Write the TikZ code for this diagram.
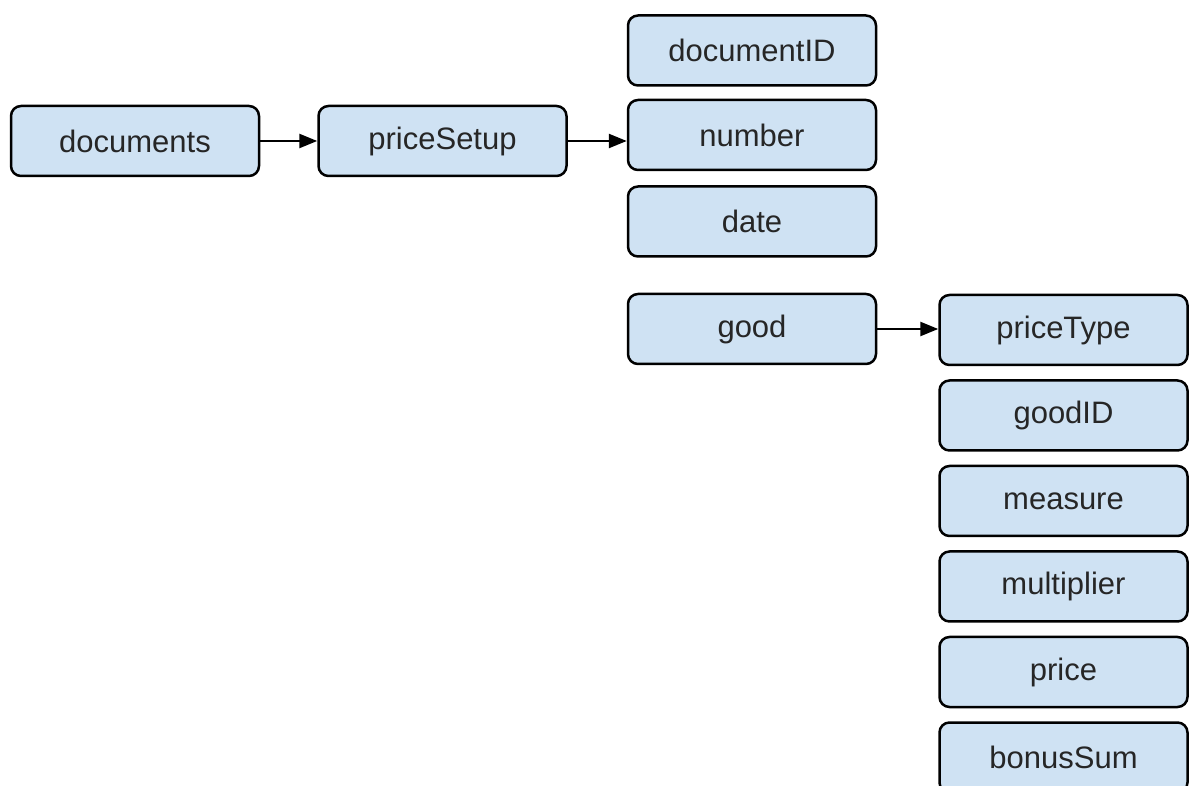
\documentclass[tikz,border=0pt]{standalone}
\usepackage{fontspec}
\setmainfont{Liberation Sans}
\usetikzlibrary{positioning,arrows.meta}
\definecolor{fieldblue}{HTML}{CFE2F3}

\begin{document}
\begin{tikzpicture}[x=1pt,y=1pt,->,>={Triangle[length=18pt,width=14pt]},line width=2.5pt,node distance=13pt,
	field node/.style={draw,rounded corners=10pt,fill=fieldblue,line width=2.5pt,minimum width=248pt,minimum height=70pt,font=\fontsize{31}{37}\selectfont,text=black!85}]
	
	\useasboundingbox (0,0) rectangle (1197,785);
	\clip (0,0) rectangle (1197,785);
	
	\node[field node] (documents) at (135,644) {documents};
	\node[field node] (priceSetup) [right=57pt of documents] {priceSetup};
	\node[field node] (number) [right=59pt of priceSetup,yshift=6pt] {number};
	\node[field node] (documentID) [above=12pt of number] {documentID};
	\node[field node] (date) [below=14pt of number] {date};
	\node[field node] (good) [below=35pt of date] {good};
	
	\node[field node] (priceType) [right=61pt of good,yshift=-1pt] {priceType};
	\node[field node] (goodID) [below=of priceType] {goodID};
	\node[field node] (measure) [below=of goodID] {measure};
	\node[field node] (multiplier) [below=of measure] {multiplier};
	\node[field node] (price) [below=of multiplier] {price};
	\node[field node] (bonusSum) [below=of price] {bonusSum};
	
	\path
	(documents) edge (priceSetup)
	(priceSetup) edge (priceSetup -| number.west)
	(good) edge (good -| priceType.west)
	;
\end{tikzpicture}
\end{document}
